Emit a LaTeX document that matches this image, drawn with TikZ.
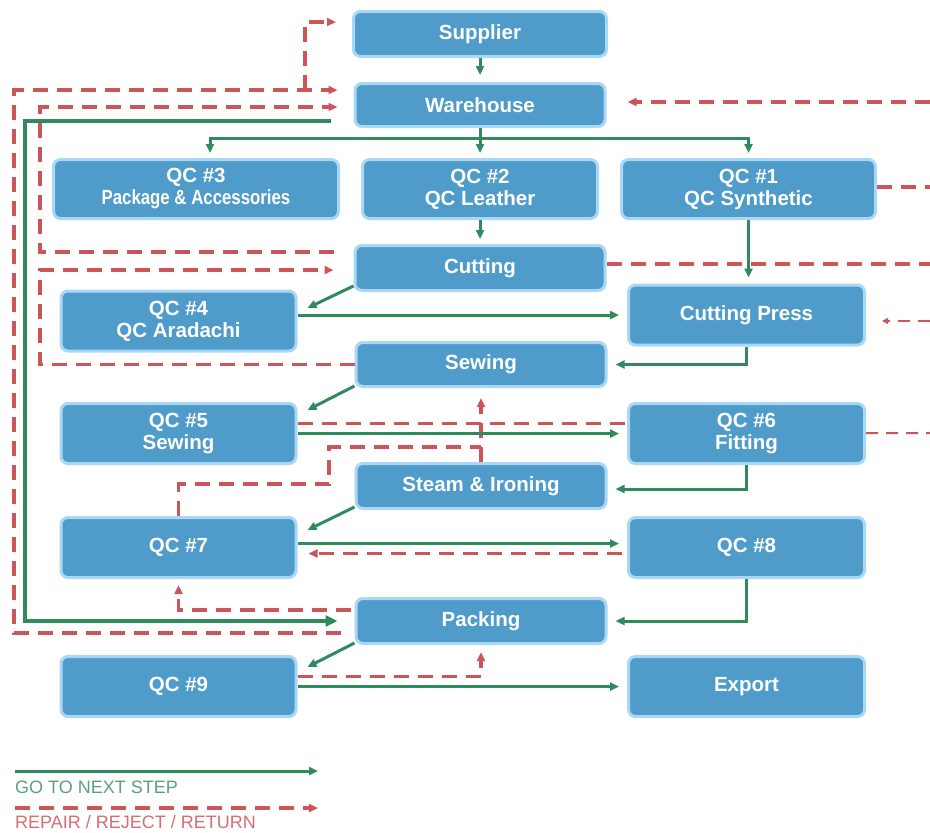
\documentclass[tikz,border=0pt]{standalone}
\usepackage{fontspec}
\setmainfont{Liberation Sans}
\usepackage{graphicx}
\usetikzlibrary{arrows.meta,calc}
\definecolor{boxfill}{HTML}{4F9BC9}
\definecolor{boxedge}{HTML}{A9D8F7}
\definecolor{okgreen}{HTML}{2F8A5C}
\definecolor{badred}{HTML}{CB5559}
\tikzset{
  >={Triangle[length=9pt,width=8pt]},
  bx/.style={rectangle,rounded corners=7pt,draw=boxedge,fill=boxfill,line width=3pt,text=white,
    font=\bfseries\fontsize{20.5}{22}\selectfont,align=center,inner sep=0pt},
  mid/.style={bx,minimum width=250pt,minimum height=45pt},
  sq/.style={bx,minimum width=235pt,minimum height=60pt},
  go/.style={draw=okgreen,line width=3pt},
  rt/.style={draw=badred,line width=3.2pt,dash pattern=on 15pt off 9pt},
  rtt/.style={draw=badred,line width=2pt,dash pattern=on 12pt off 8pt},
  lg/.style={anchor=base west,inner sep=0pt,font=\fontsize{18}{20}\selectfont},
}
\begin{document}
\begin{tikzpicture}[x=1pt,y=-1pt]
\useasboundingbox (0,0) rectangle (930,833);
\node[mid,minimum width=253pt] (sup) at (480,34) {Supplier}; \node[mid,minimum height=43pt] (wh) at (480,105) {Warehouse};
\node[sq,minimum width=285pt,minimum height=59pt] (qc3) at (196,189) {QC \#3\\\scalebox{0.82}[1]{Package \& Accessories}};
\node[sq,minimum height=59pt] (qc2) at (480,189) {QC \#2\\QC Leather};
\node[sq,minimum width=254pt,minimum height=59pt] (qc1) at (748.5,189) {QC \#1\\QC Synthetic};
\node[mid] (cut) at (480,268) {Cutting};
\node[sq] (qc4) at (178.5,321) {QC \#4\\QC Aradachi}; \node[sq,minimum width=236pt] (press) at (746.5,315) {Cutting Press};
\node[mid,minimum height=44pt] (sew) at (481,364.5) {Sewing};
\node[sq] (qc5) at (178.5,433.5) {QC \#5\\Sewing}; \node[sq,minimum width=236pt] (qc6) at (746.5,433.5) {QC \#6\\Fitting};
\node[mid] (steam) at (481,486) {Steam \& Ironing};
\node[sq] (qc7) at (178.5,547.5) {QC \#7}; \node[sq,minimum width=236pt] (qc8) at (746.5,547.5) {QC \#8};
\node[mid] (pack) at (481,621) {Packing};
\node[sq] (qc9) at (178.5,686.5) {QC \#9}; \node[sq,minimum width=236pt] (exp) at (746.5,686.5) {Export};
\coordinate (jA) at (305,90); \coordinate (eWh) at (930,102); \coordinate (eQ1) at (930,187);
\coordinate (eCut) at (930,264); \coordinate (ePr) at (930,321); \coordinate (eQ6) at (930,433);
\draw[rt,->,shorten <=14pt,shorten >=16pt] (pack.west |- 0,633) -- (14,633) -- (14,90) -- (wh.west |- 0,90);
\draw[rt,->,shorten >=16pt] (jA) -- (305,22) -- (sup.west |- 0,22);
\draw[rt,->,shorten <=20pt,shorten >=16pt] (cut.west |- 0,252) -- (40,252) -- (40,107) -- (wh.west |- 0,107);
\draw[rt,->,shorten >=20pt] (sew) -- (40,364.5) -- (40,270) -- (cut.west |- 0,270);
\draw[rt,->,shorten >=21pt] (eWh) -- (wh.east |- eWh); \draw[rt] (qc1.east |- eQ1) -- (eQ1); \draw[rt] (cut.east |- eCut) -- (eCut);
\draw[rtt,-{Triangle[length=6pt,width=6pt]},shorten >=16pt] (ePr) -- (press.east |- ePr); \draw[rtt] (qc6) -- (eQ6);
\draw[rt] ([yshift=10pt]qc5.east) -- ([yshift=10pt]qc6.west); \draw[rt,->,shorten >=10pt] (steam) -- (sew);
\draw[rt] (qc7) -- (qc7.north |- 0,484) -- (329,484) -- (329,447) -- (steam.north |- 0,447);
\draw[rt,->,shorten <=5pt,shorten >=11pt] ([yshift=-6pt]qc8.west) -- ([yshift=-6pt]qc7.east);
\draw[rt,->,shorten <=4pt,shorten >=6pt] (pack.west |- 0,610) -- (qc7.south |- 0,610) -- (qc7.south);
\draw[rt,->,shorten >=7pt] ([yshift=10pt]qc9.east) -| (pack.south);
\coordinate (split) at (480,138); \coordinate (whOut) at (331,121);
\draw[go,->,shorten >=7pt] (sup) -- (wh); \draw[go] (wh) -- (split);
\draw[go,->,shorten >=5pt] (split) -| ([xshift=14pt]qc3.north); \draw[go,->,shorten >=5pt] (split) -- (qc2);
\draw[go,->,shorten >=5pt] (split) -| (qc1.north); \draw[go,->,shorten >=5pt] (qc2) -- (cut);
\draw[go,->,shorten >=6pt] (qc1.south) -- (qc1.south |- press.north);
\draw[go,->] ([yshift=6pt]cut.south west) -- ([xshift=10pt,yshift=-18.5pt]qc4.north east);
\draw[go,->] ([yshift=2pt]sew.south west) -- ([xshift=10pt,yshift=-8pt]qc5.north east);
\draw[go,->] ([yshift=3pt]steam.south west) -- ([xshift=10pt,yshift=-14pt]qc7.north east);
\draw[go,->] ([yshift=2pt]pack.south west) -- ([xshift=10pt,yshift=-12pt]qc9.north east);
\draw[go,->,shorten >=8pt] (qc4.east |- press) -- (press); \draw[go,->,shorten >=8pt] (press) |- (sew);
\draw[go,->,shorten >=8pt] (qc5) -- (qc6); \draw[go,->,shorten >=8pt] (qc6.south) |- ([yshift=-3pt]steam.east);
\draw[go,->,shorten >=8pt] ([yshift=4pt]qc7.east) -- ([yshift=4pt]qc8.west); \draw[go,->,shorten >=8pt] (qc8) |- (pack);
\draw[go,->,shorten >=8pt] (qc9) -- (exp);
\draw[go,line width=4pt,-{Triangle[length=12pt,width=11pt]},shorten >=17pt] (whOut) -- (25,121) |- (pack);
\coordinate (lgA) at (15,771); \coordinate (lgB) at (318,771); \coordinate (lgC) at (15,808); \coordinate (lgD) at (318,808);
\draw[go,->] (lgA) -- (lgB); \node[lg,text=okgreen!80!white] (lgGo) at (15,793) {GO TO NEXT STEP};
\draw[rt,->] (lgC) -- (lgD); \node[lg,text=badred!85!white] (lgRet) at (15,828) {REPAIR / REJECT / RETURN};
\end{tikzpicture}
\end{document}
